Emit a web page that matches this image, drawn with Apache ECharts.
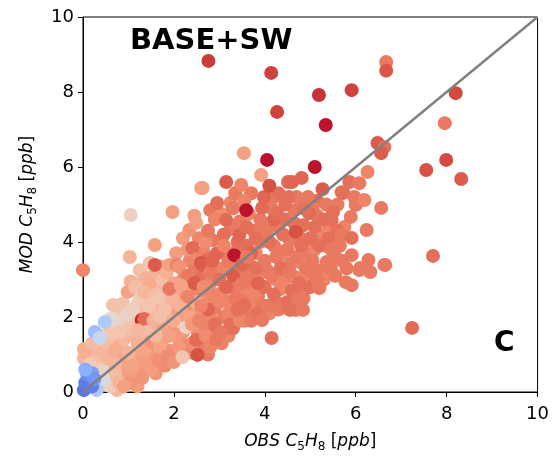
<!DOCTYPE html>
<html>
<head>
<meta charset="utf-8">
<script src="https://cdn.jsdelivr.net/npm/echarts/dist/echarts.min.js"></script>
<style>html,body{margin:0;padding:0;background:#fff}#c{width:552px;height:459px}</style>
</head>
<body>
<div id="c"></div>
<script>
// [OBS, MOD, colour value 0..1]
const fillA = [[0.15,0.95,0.67],[0.25,1.2,0.66],[0.4,1.0,0.68],[0.55,1.15,0.7],[0.65,0.95,0.7],[0.45,0.75,0.63],[0.6,0.4,0.62],[0.75,0.3,0.68],[0.85,0.55,0.7],[0.7,1.35,0.68],[0.85,1.2,0.7],[0.95,0.8,0.73],[0.4,1.5,0.64],[0.55,1.6,0.58],[0.6,1.75,0.63],[0.85,1.9,0.63],[0.75,2.1,0.6],[0.9,2.2,0.65],[0.35,0.45,0.5],[0.25,0.7,0.56],[0.1,0.8,0.65],[0.3,1.35,0.66],[0.5,0.2,0.55],[0.75,0.05,0.66],[0.95,0.35,0.73]];
const fillB = [[1.1,0.45,0.74],[1.15,1.0,0.72],[1.2,0.15,0.74],[1.25,1.45,0.68],[1.1,1.5,0.66],[1.15,1.9,0.62],[1.2,2.35,0.6],[1.3,2.15,0.64],[1.35,0.6,0.76],[1.45,0.9,0.74],[1.45,1.8,0.66],[1.5,2.05,0.64],[1.55,2.45,0.64],[1.55,1.15,0.74],[1.6,0.5,0.76],[1.65,1.75,0.72],[1.7,2.3,0.68],[1.75,1.0,0.76],[1.8,1.45,0.74],[1.8,2.75,0.72],[1.85,1.85,0.72],[1.9,1.1,0.76],[1.95,2.2,0.7],[1.65,2.8,0.66],[1.55,3.1,0.68],[1.3,2.95,0.66],[1.25,3.25,0.64],[1.7,3.35,0.72],[1.8,0.7,0.78],[1.95,1.6,0.76],[1.05,2.95,0.68],[1.2,2.65,0.62]];
const fillC = [[2.05,1.05,0.78],[2.1,1.45,0.76],[2.1,2.1,0.74],[2.15,2.6,0.72],[2.2,3.0,0.78],[2.25,1.25,0.78],[2.3,1.95,0.74],[2.3,2.3,0.76],[2.35,3.5,0.8],[2.4,1.05,0.8],[2.4,2.75,0.78],[2.45,3.25,0.82],[2.5,1.65,0.78],[2.55,2.1,0.76],[2.55,2.65,0.8],[2.6,1.25,0.82],[2.6,3.05,0.84],[2.65,3.75,0.8],[2.7,1.75,0.8],[2.7,2.45,0.78],[2.75,1.0,0.82],[2.75,3.55,0.84],[2.8,2.0,0.8],[2.8,2.9,0.8],[2.85,1.55,0.82],[2.85,4.05,0.82],[2.9,2.25,0.82],[2.95,3.3,0.8],[2.55,4.1,0.8],[2.3,3.8,0.76],[2.2,4.1,0.74],[2.45,4.7,0.74],[2.8,4.85,0.82],[2.05,3.7,0.74]];
const fillD = [[3.05,1.3,0.8],[3.05,2.65,0.8],[3.1,2.0,0.82],[3.1,3.3,0.8],[3.15,3.7,0.82],[3.2,1.5,0.8],[3.2,2.4,0.8],[3.25,4.35,0.82],[3.3,2.75,0.82],[3.3,1.7,0.84],[3.35,3.35,0.8],[3.4,2.05,0.8],[3.4,3.8,0.82],[3.45,4.55,0.82],[3.5,2.55,0.82],[3.5,3.1,0.82],[3.55,1.9,0.8],[3.6,2.75,0.8],[3.6,3.9,0.84],[3.65,4.75,0.8],[3.65,2.1,0.82],[3.7,3.35,0.82],[3.75,4.3,0.82],[3.75,2.4,0.8],[3.8,3.7,0.8],[3.85,2.55,0.82],[3.9,3.15,0.8],[3.9,4.0,0.82],[3.95,2.3,0.82],[3.95,4.4,0.82],[3.25,5.05,0.8],[3.7,5.3,0.82],[3.05,4.75,0.78],[3.35,5.3,0.82]];
const fillE = [[4.05,3.25,0.82],[4.05,4.3,0.82],[4.1,2.1,0.8],[4.15,4.9,0.82],[4.2,3.9,0.82],[4.25,2.4,0.82],[4.25,3.0,0.8],[4.3,4.4,0.82],[4.35,2.75,0.8],[4.35,3.75,0.82],[4.4,2.35,0.82],[4.45,3.45,0.8],[4.45,4.6,0.84],[4.5,3.05,0.82],[4.55,4.05,0.82],[4.6,2.45,0.82],[4.6,3.45,0.82],[4.65,4.85,0.82],[4.7,3.05,0.8],[4.75,4.15,0.82],[4.75,2.65,0.82],[4.8,3.45,0.8],[4.85,4.45,0.84],[4.9,2.75,0.82],[4.9,3.75,0.82],[4.95,3.0,0.8],[4.2,5.2,0.82],[4.7,5.2,0.82]];
const fillF = [[5.05,3.2,0.82],[5.1,3.8,0.8],[5.15,4.7,0.82],[5.2,4.2,0.8],[5.25,3.25,0.82],[5.3,3.0,0.8],[5.35,3.9,0.82],[5.4,4.45,0.8],[5.45,3.3,0.82],[5.5,4.1,0.8],[5.55,3.6,0.82],[5.6,5.0,0.82],[5.65,3.9,0.82],[5.75,4.4,0.8],[5.8,3.3,0.82],[5.15,5.1,0.84],[5.05,4.9,0.82],[5.35,5.0,0.82]];
const band0 = [[0.02,0.9,0.67],[0.1,1.05,0.7],[0.3,0.9,0.65],[0.35,1.15,0.67],[0.4,0.6,0.6],[0.02,1.15,0.69],[0.5,1.3,0.65],[0.55,0.9,0.67],[0.6,0.15,0.6],[0.5,0.55,0.56],[0.15,0.75,0.6],[0.45,0.3,0.48],[0.3,0.05,0.35],[0.2,1.3,0.65]];
const band1 = [[0.65,1.55,0.62],[0.66,2.32,0.63],[0.7,1.1,0.7],[0.72,0.5,0.65],[0.75,1.85,0.56],[0.8,0.25,0.67],[0.85,0.85,0.72],[0.88,2.37,0.63],[0.9,1.4,0.66],[0.95,2.05,0.56],[0.98,2.67,0.72],[1.0,0.55,0.73],[1.0,1.05,0.68],[1.03,0.24,0.76],[1.03,3.6,0.67],[1.05,1.7,0.63],[0.6,1.95,0.53],[0.8,1.6,0.62],[0.9,0.15,0.73],[0.7,0.75,0.67]];
const band2 = [[1.1,2.2,0.58],[1.15,2.8,0.64],[1.2,1.3,0.68],[1.25,2.51,0.6],[1.29,1.92,0.95],[1.35,1.95,0.85],[1.3,0.37,0.76],[1.3,0.8,0.74],[1.35,1.1,0.72],[1.4,3.05,0.68],[1.4,1.6,0.64],[1.45,2.3,0.62],[1.47,2.85,0.7],[1.47,3.44,0.62],[1.5,0.6,0.74],[1.5,1.35,0.76],[1.2,1.65,0.66],[1.1,0.7,0.72],[1.35,2.65,0.66],[1.58,3.92,0.73],[1.58,3.39,0.88]];
const band3 = [[1.55,1.9,0.68],[1.6,2.6,0.64],[1.65,0.85,0.77],[1.68,2.51,0.62],[1.7,1.2,0.72],[1.75,2.99,0.64],[1.75,1.65,0.72],[1.8,2.2,0.64],[1.85,0.95,0.78],[1.85,3.2,0.68],[1.9,3.39,0.73],[1.9,1.5,0.73],[1.95,2.5,0.67],[1.97,4.8,0.73],[2.0,1.9,0.7],[2.0,0.8,0.76],[2.0,2.9,0.72],[1.6,1.5,0.66],[1.7,2.0,0.64],[1.9,2.75,0.82]];
const band4 = [[2.06,3.39,0.8],[2.1,1.2,0.75],[2.12,3.33,0.76],[2.15,2.3,0.68],[2.19,0.93,0.62],[2.2,1.6,0.75],[2.25,2.7,0.73],[2.27,1.73,0.56],[2.3,3.1,0.82],[2.34,4.32,0.76],[2.35,2.0,0.72],[2.4,1.3,0.78],[2.41,3.84,0.85],[2.45,2.9,0.88],[2.49,4.51,0.73],[2.49,1.39,0.85],[2.5,2.4,0.68],[2.52,0.99,0.9],[2.5,3.55,0.8],[2.3,2.55,0.8],[2.15,2.85,0.72],[2.4,1.8,0.75]];
const band5 = [[2.55,1.9,0.8],[2.6,3.44,0.9],[2.6,5.44,0.73],[2.63,3.39,0.88],[2.65,2.8,0.78],[2.7,1.5,0.78],[2.7,4.0,0.78],[2.75,2.2,0.86],[2.8,3.2,0.82],[2.8,1.2,0.8],[2.85,2.6,0.8],[2.9,4.6,0.8],[2.9,1.8,0.84],[2.93,1.39,0.82],[2.95,5.04,0.84],[2.95,3.7,0.86],[3.0,2.4,0.8],[3.0,3.0,0.84],[2.75,4.3,0.82],[2.6,2.3,0.8],[2.85,3.5,0.86]];
const band6 = [[3.05,1.6,0.82],[3.1,4.2,0.84],[3.15,4.59,0.85],[3.15,2.8,0.86],[3.2,2.1,0.8],[3.2,3.5,0.82],[3.25,1.8,0.84],[3.3,3.1,0.88],[3.33,3.65,0.98],[3.35,2.5,0.82],[3.4,4.0,0.84],[3.44,4.19,0.86],[3.45,1.9,0.8],[3.48,5.52,0.8],[3.5,2.9,0.82],[3.5,3.4,0.86],[3.3,4.9,0.82],[3.1,3.9,0.8],[3.4,2.2,0.84]];
const band7 = [[3.55,2.3,0.84],[3.6,4.4,0.84],[3.65,3.0,0.82],[3.7,1.9,0.82],[3.7,3.7,0.86],[3.75,2.6,0.8],[3.8,4.1,0.84],[3.8,3.3,0.84],[3.85,2.1,0.84],[3.9,4.6,0.82],[3.92,5.79,0.73],[3.94,4.91,0.85],[3.94,1.92,0.82],[3.98,5.2,0.86],[4.0,2.8,0.84],[4.0,3.5,0.82],[3.6,3.6,0.82],[3.85,2.9,0.86],[3.55,5.1,0.8]];
const band8 = [[4.05,2.3,0.82],[4.1,4.0,0.84],[4.15,1.44,0.84],[4.15,3.1,0.82],[4.2,2.6,0.84],[4.2,4.6,0.86],[4.25,3.6,0.82],[4.27,4.77,0.84],[4.3,2.2,0.82],[4.35,3.3,0.84],[4.4,2.9,0.8],[4.4,4.2,0.84],[4.45,5.0,0.84],[4.5,2.4,0.84],[4.5,3.8,0.82],[4.51,5.6,0.85],[4.53,5.2,0.84],[4.3,5.3,0.84],[4.1,5.5,0.9]];
const band9 = [[4.55,3.2,0.82],[4.6,5.6,0.86],[4.6,2.7,0.84],[4.65,4.5,0.84],[4.68,2.19,0.82],[4.68,4.27,0.9],[4.7,3.6,0.82],[4.75,2.9,0.84],[4.73,2.45,0.82],[4.8,3.9,0.84],[4.81,5.71,0.86],[4.85,2.5,0.82],[4.84,2.19,0.82],[4.55,2.19,0.84],[4.9,3.3,0.82],[4.95,5.2,0.82],[4.97,4.77,0.85],[5.0,4.1,0.84],[5.0,2.8,0.84],[4.85,4.9,0.84]];
const band10 = [[5.05,3.5,0.82],[5.1,4.4,0.84],[5.15,3.0,0.82],[5.2,2.77,0.82],[5.2,3.9,0.84],[5.27,5.41,0.88],[5.3,4.6,0.84],[5.36,3.47,0.82],[5.4,4.1,0.84],[5.47,3.79,0.82],[5.47,4.59,0.84],[5.5,4.8,0.84],[5.55,3.1,0.82],[5.6,4.3,0.84],[5.69,5.33,0.84],[5.73,5.31,0.84],[5.69,4.19,0.82],[5.7,3.5,0.82],[5.78,2.93,0.82],[5.86,5.6,0.84],[5.89,4.67,0.82],[5.91,4.11,0.84],[5.91,3.65,0.82],[5.91,2.85,0.82],[5.97,5.2,0.82],[6.0,4.99,0.82],[6.08,5.57,0.82],[6.08,3.25,0.82],[6.1,3.31,0.82],[6.19,5.12,0.8],[6.24,4.32,0.82],[6.28,3.52,0.82],[6.32,3.2,0.82],[6.26,5.87,0.8],[6.56,4.91,0.82],[6.65,3.39,0.82],[6.48,6.64,0.88],[6.63,6.53,0.84],[6.56,6.37,0.88],[6.63,3.39,0.82]];
const sparse = [[0.0,3.25,0.8],[1.05,4.72,0.57],[3.54,6.37,0.73],[2.76,8.83,0.93],[4.14,8.51,0.92],[4.27,7.47,0.92],[5.19,7.92,0.94],[5.34,7.12,0.98],[5.91,8.05,0.92],[6.67,8.8,0.82],[6.67,8.57,0.89],[8.2,7.97,0.91],[7.96,7.17,0.82],[7.99,6.19,0.91],[7.55,5.92,0.9],[8.32,5.68,0.88],[7.24,1.71,0.85],[7.7,3.63,0.84],[4.05,6.19,0.98],[5.1,6.0,0.98],[3.59,4.85,0.98],[3.15,5.6,0.88],[2.63,5.44,0.73]];
const blues = [[0.08,0.15,0.08],[0.02,0.05,0.1],[0.05,0.25,0.12],[0.12,0.3,0.1],[0.1,0.45,0.15],[0.2,0.15,0.12],[0.2,0.5,0.2],[0.25,0.35,0.18],[0.05,0.6,0.25],[0.26,1.6,0.3],[0.48,1.87,0.35],[0.37,1.44,0.42]];
const ticks = [0, 2, 4, 6, 8, 10];
const oneToOne = [[0, 0], [10, 10]];

const points = [].concat(fillA, fillB, fillC, fillD, fillE, fillF, band0, band1, band2, band3, band4, band5, band6, band7, band8, band9, band10, sparse, blues);

const coolwarm = ['#3b4cc0','#5977e3','#7b9ff9','#9ebeff','#c0d4f5','#dddcdc','#f2cbb7','#f7ac8e','#ee8468','#d65244','#b40426'];
const font = 'DejaVu Sans';
const richName = {
  i: {fontSize: 17, fontStyle: 'italic', fontFamily: font, color: '#000', lineHeight: 22},
  n: {fontSize: 17, fontFamily: font, color: '#000', lineHeight: 22},
  s: {fontSize: 12, fontFamily: font, color: '#000', padding: [9, 0, 0, 0], lineHeight: 14}
};
const nameText = '{i|OBS C}{s|5}{i|H}{s|8}{n| [}{i|ppb}{n|]}';
const nameTextY = '{i|MOD C}{s|5}{i|H}{s|8}{n| [}{i|ppb}{n|]}';

const chart = echarts.init(document.getElementById('c'), null, {renderer: 'canvas'});
const axisCommon = {
  type: 'value', min: 0, max: 10, interval: 2,
  axisLine: {show: true, lineStyle: {color: '#000', width: 1}},
  axisTick: {show: true, inside: false, length: 5, lineStyle: {color: '#000'}},
  splitLine: {show: false},
  nameLocation: 'middle'
};
chart.setOption({
  animation: false,
  grid: {left: 83, top: 17, right: 11, bottom: 67, show: true, borderColor: '#000', borderWidth: 1, backgroundColor: 'transparent'},
  xAxis: Object.assign({}, axisCommon, {name: nameText, nameGap: 39, nameTextStyle: {rich: richName}, axisLabel: {fontSize: 18, color: '#000', fontFamily: font, margin: 13}}),
  yAxis: Object.assign({}, axisCommon, {name: nameTextY, nameGap: 44, nameTextStyle: {rich: richName}, axisLabel: {fontSize: 18, color: '#000', fontFamily: font, margin: 9}}),
  visualMap: {show: false, type: 'continuous', min: 0, max: 1, dimension: 2, seriesIndex: 0, inRange: {color: coolwarm}},
  graphic: [
    {type: 'text', left: 130, top: 27, style: {text: 'BASE+SW', font: 'bold 29px "DejaVu Sans"', fill: '#000'}, z: 100},
    {type: 'text', left: 494, top: 330, style: {text: 'C', font: 'bold 28px "DejaVu Sans"', fill: '#000'}, z: 100}
  ],
  series: [
    {type: 'scatter', data: points, symbolSize: 14, itemStyle: {opacity: 1}, z: 2, silent: true},
    {type: 'line', data: oneToOne, symbol: 'none', lineStyle: {color: '#808080', width: 2.5}, z: 5, silent: true}
  ]
});
</script>
</body>
</html>
